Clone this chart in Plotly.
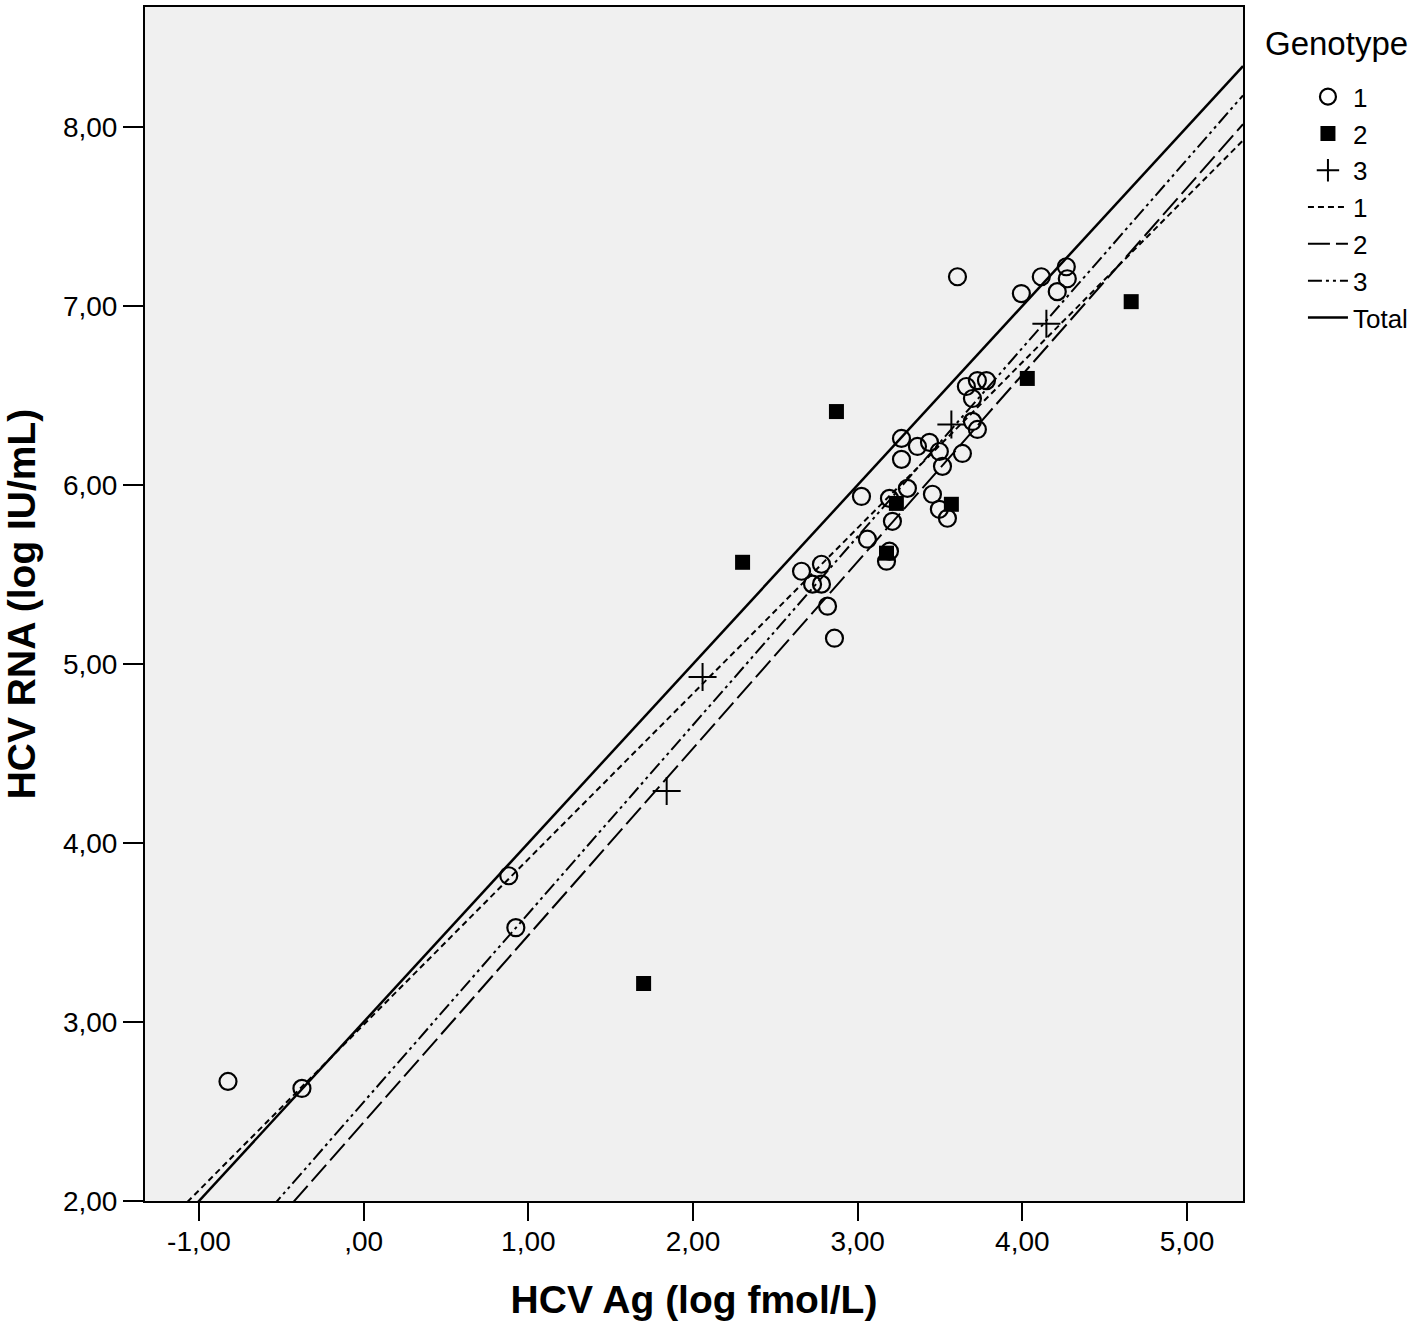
import numpy as np
import plotly.graph_objects as go

# ---------------- data ----------------
g1_x = [-0.824, -0.375, 0.881, 0.924, 3.606, 3.994, 4.115, 4.267, 4.273, 4.212,
        3.660, 3.727, 3.782, 3.697, 3.697, 3.727, 3.266, 3.363, 3.436, 3.496,
        3.515, 3.636, 3.266, 3.302, 3.023, 3.193, 3.454, 3.496, 3.545, 3.211,
        3.059, 3.175, 3.193, 2.659, 2.780, 2.726, 2.780, 2.817, 2.859]
g1_y = [2.668, 2.629, 3.817, 3.527, 7.163, 7.069, 7.163, 7.219, 7.152, 7.080,
        6.550, 6.583, 6.583, 6.483, 6.355, 6.310, 6.260, 6.215, 6.238, 6.187,
        6.104, 6.176, 6.143, 5.981, 5.936, 5.925, 5.948, 5.864, 5.814, 5.797,
        5.697, 5.574, 5.630, 5.518, 5.557, 5.446, 5.446, 5.323, 5.144]

g2_x = [2.301, 2.871, 1.700, 3.175, 3.235, 3.569, 4.030, 4.661]
g2_y = [5.568, 6.410, 3.215, 5.619, 5.897, 5.892, 6.595, 7.024]

g3_x = [2.058, 1.840, 3.569, 4.146]
g3_y = [4.927, 4.291, 6.338, 6.901]

# fit lines (intercept, slope)
fit_names = ["1", "2", "3", "Total"]
fit_intercepts = [2.985, 2.44, 2.553, 3.0]
fit_slopes = [0.925, 1.044, 1.053, 1.0]

x_ticks = [-1, 0, 1, 2, 3, 4, 5]
x_ticktext = ["-1,00", ",00", "1,00", "2,00", "3,00", "4,00", "5,00"]
y_ticks = [2, 3, 4, 5, 6, 7, 8]
y_ticktext = ["2,00", "3,00", "4,00", "5,00", "6,00", "7,00", "8,00"]

X_RANGE = [-1.328, 5.34]
Y_RANGE = [2.0, 8.67]

# ---------------- figure ----------------
FONT = "Liberation Sans, Arial, sans-serif"
fig = go.Figure()

fig.add_trace(go.Scatter(
    x=g1_x, y=g1_y, mode="markers", name="1",
    marker=dict(symbol="circle-open", size=17, color="black", line=dict(width=2.2, color="black")),
))
fig.add_trace(go.Scatter(
    x=g2_x, y=g2_y, mode="markers", name="2",
    marker=dict(symbol="square", size=15, color="black"),
))
fig.add_trace(go.Scatter(
    x=g3_x, y=g3_y, mode="markers", name="3",
    marker=dict(symbol="cross-thin-open", size=20, color="black", line=dict(width=2, color="black")),
))

dashes = ["6px,4px", "22px,6px", "14px,4px,3px,4px,3px,4px", "solid"]
widths = [2, 2, 2, 2.5]
xl = np.array(X_RANGE)
for name, b0, b1, d, w in zip(fit_names, fit_intercepts, fit_slopes, dashes, widths):
    fig.add_trace(go.Scatter(
        x=xl, y=b0 + b1 * xl, mode="lines", name=name,
        line=dict(color="black", width=w, dash=d),
    ))

fig.update_layout(
    width=1418, height=1329,
    margin=dict(l=145, r=174, t=5, b=128),
    paper_bgcolor="white", plot_bgcolor="#f0f0f0",
    font=dict(family=FONT, color="black", size=26),
    showlegend=True,
    legend=dict(
        x=1.0546, y=0.9445, xanchor="left", yanchor="top",
        font=dict(size=26, family=FONT),
        bgcolor="rgba(0,0,0,0)", tracegroupgap=0, itemwidth=40,
    ),
    annotations=[dict(
        text="Genotype", xref="paper", yref="paper",
        x=(1264 - 145) / 1099, y=(1201 - 42) / 1196, xanchor="left", yanchor="middle",
        showarrow=False, font=dict(size=33, family=FONT),
    )],
)
fig.update_xaxes(
    range=X_RANGE, tickvals=x_ticks, ticktext=x_ticktext,
    showgrid=False, zeroline=False, showline=True, linewidth=2, linecolor="black", mirror=True,
    ticks="outside", ticklen=18, tickwidth=2, tickcolor="black",
    tickfont=dict(size=28, family=FONT), ticklabelstandoff=-4,
    title=dict(text="<b>HCV Ag (log fmol/L)</b>", font=dict(size=39, family=FONT), standoff=30),
)
fig.update_yaxes(
    range=Y_RANGE, tickvals=y_ticks, ticktext=y_ticktext,
    showgrid=False, zeroline=False, showline=True, linewidth=2, linecolor="black", mirror=True,
    ticks="outside", ticklen=20, tickwidth=2, tickcolor="black",
    tickfont=dict(size=28, family=FONT),
    title=dict(text="<b>HCV RNA (log IU/mL)</b>", font=dict(size=39, family=FONT), standoff=19),
)

fig.write_html("out.html", config={"displayModeBar": False},
               post_script="document.body.style.margin='0px';")
